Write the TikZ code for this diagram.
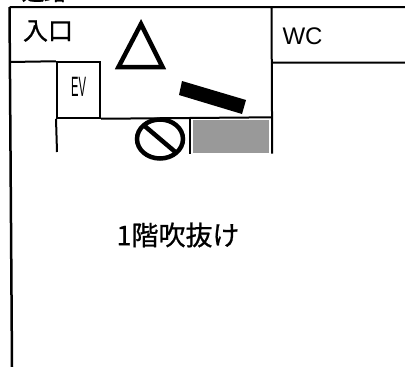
\documentclass[tikz,border=0pt]{standalone}
\usepackage{fontspec}
\setmainfont{Liberation Sans}
\newfontfamily\cjk[FakeBold=0.8]{Noto Sans CJK JP}
\usetikzlibrary{positioning, shapes.geometric}
\tikzset{
    wall/.style={line width=2pt},
    label/.style={inner sep=0pt},
}

\begin{document}
\begin{tikzpicture}[x=1pt, y=-1pt]
    \useasboundingbox (0, 0) rectangle (405, 367);
    \node[label, font=\cjk\fontsize{22}{22}\selectfont] (road) at (44, -8) {通路};
    \node[label, font=\cjk\fontsize{25}{25}\selectfont] (entry) at (48, 31) {入口};
    \node[label, font=\fontsize{24}{24}\selectfont] (wc) at (302.5, 36) {WC};
    \node[label, font=\cjk\fontsize{27}{27}\selectfont] (void) at (178, 235) {1階吹抜け};
    \node[draw, wall, minimum width=43, minimum height=55.5, inner sep=0pt] (ev) at (78.5, 90) {};
    \node[label, font=\fontsize{28}{28}\selectfont, xscale=0.4] (evlabel) at (78.5, 87) {EV};
    \node[minimum width=82, minimum height=36, inner sep=0pt] (shaft) at (231, 135.5) {};
    \node[fill=black!40, minimum width=76, minimum height=33, inner sep=0pt] (dither) at (231, 136.5) {};
    \node[draw, line width=4.5pt, ellipse, minimum width=46, minimum height=39, inner sep=0pt, outer sep=0pt] (noentry) at (160, 139) {};
    \coordinate (topleft) at (9.5, 7);
    \coordinate (topright) at (405, 7);
    \coordinate (bottomleft) at (12, 367);
    \coordinate (divtop) at (271.5, 7);
    \coordinate (wcleft) at (271.5, 62.5);
    \coordinate (wcright) at (405, 62.5);
    \coordinate (lobbyleft) at (9.5, 62);
    \coordinate (stepcorner) at (57, 152);
    \draw[line width=2.5pt] (topleft) -- (bottomleft);
    \draw[wall]
    (topright) -- (topleft)
    (divtop) -- (shaft.south east)
    (wcleft) -- (wcright)
    (lobbyleft) -- (ev.north west)
    (ev.south east) -- (shaft.north east)
    (ev.south west) -- (stepcorner);
    \draw[line width=2.5pt] (shaft.north west) -- (shaft.south west);
    \draw[line width=4.5pt] (noentry.north west) -- (noentry.south east);
    \draw[line width=4.5pt] (141, 24) -- (118.5, 67) -- (162.5, 67) -- cycle;
    \fill[black] (182, 81) -- (246, 100) -- (242, 114) -- (179, 95) -- cycle;
\end{tikzpicture}
\end{document}
